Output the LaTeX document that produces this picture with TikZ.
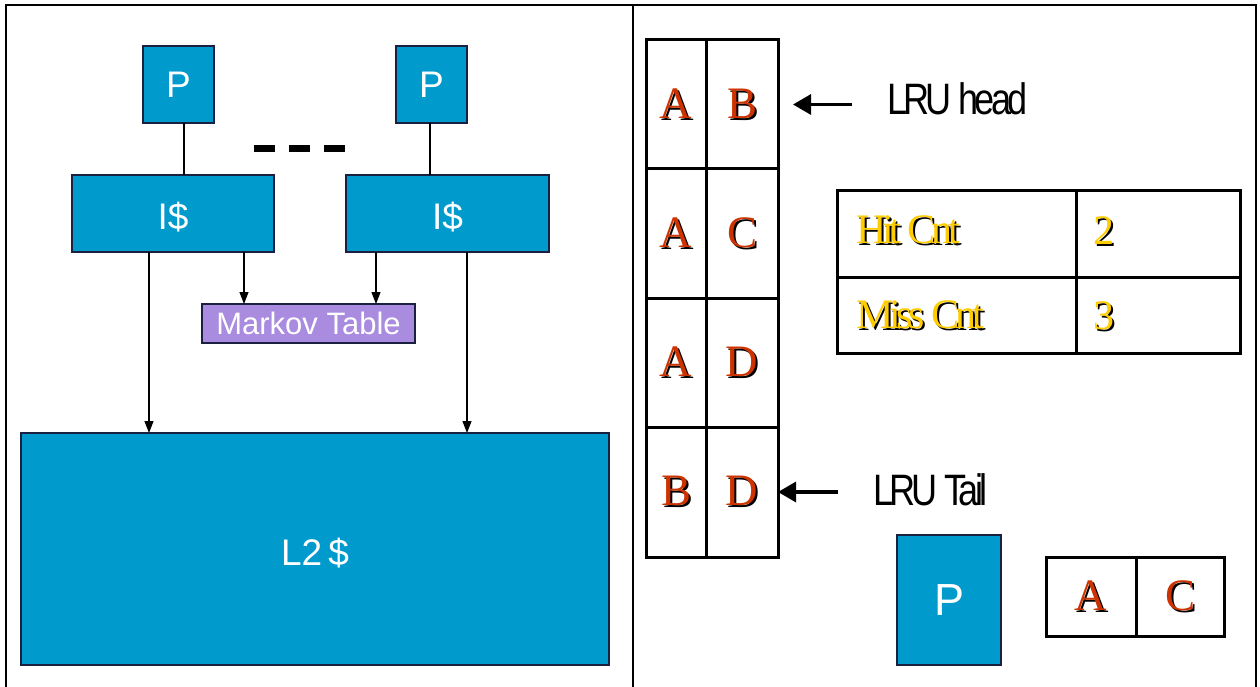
\documentclass[tikz,border=0pt]{standalone}
\usepackage{fontspec}
\setmainfont{Liberation Serif}
\setsansfont{Liberation Sans}
\newfontfamily\tightsans[LetterSpace=-10]{Liberation Sans}
\newfontfamily\tightserif[LetterSpace=-10]{Liberation Serif}
\usetikzlibrary{arrows.meta}

\definecolor{cacheblue}{HTML}{009ACD}
\definecolor{boxedge}{HTML}{1B2040}
\definecolor{markovfill}{HTML}{A98BDF}
\definecolor{tagred}{HTML}{CC3300}
\definecolor{cntyellow}{HTML}{FFCC00}

% font size in pt, leading equal to size
\newcommand{\setfs}[1]{\fontsize{#1}{#1}\selectfont}
% coloured text over a black drop shadow
\newcommand{\dropshadow}[2]{\makebox[0pt][l]{\kern2pt\raisebox{-2pt}{\textcolor{black}{#2}}}\textcolor{#1}{#2}}
% narrow, tightly set label text
\newcommand{\squeezed}[1]{\scalebox{0.82}[1]{#1}}

\begin{document}
\begin{tikzpicture}[x=1pt,y=-1pt,
  blk/.style={draw=boxedge, fill=cacheblue, line width=1.5pt, inner sep=0pt, outer sep=0pt,
              text=white, font=\sffamily\setfs{37}},
  dollarblk/.style={blk, text height=32pt, text depth=0pt},
  markov/.style={draw=boxedge, fill=markovfill, line width=1.5pt, inner sep=0pt, outer sep=0pt,
              text=white, font=\sffamily\setfs{31}},
  cell/.style={draw=black, line width=3pt, inner sep=0pt, outer sep=0pt, font=\rmfamily\setfs{45}},
  frame/.style={draw=black, line width=2.5pt},
  link/.style={draw=black, line width=1.2pt},
  feed/.style={link, -{Triangle[length=12pt,width=9pt]}},
  pointer/.style={draw=black, line width=3.2pt, -{Triangle[length=18pt,width=20pt]}},
  lbl/.style={inner sep=0pt, outer sep=0pt, font=\tightsans\setfs{44}},
  cnt/.style={inner sep=0pt, outer sep=0pt, font=\tightserif\setfs{42}}
]
\useasboundingbox (0,0) rectangle (1260,687);
\fill[white] (0,0) rectangle (1260,687);

% page frame and divider
\draw[frame] (6,687) -- (6,5) -- (1256,5) -- (1256,687);
\draw[frame] (633,5) -- (633,687);

% ---- left: processors, I-caches, Markov table, L2 ----
\node[blk, minimum width=71, minimum height=77] (p1) at (178.5,84.5) {P};
\node[blk, minimum width=71, minimum height=77] (p2) at (431.5,84.5) {P};
\node[dollarblk, minimum width=202, minimum height=77] (ic1) at (173,213.5) {I\$};
\node[dollarblk, minimum width=203, minimum height=77] (ic2) at (447.5,213.5) {I\$};
\node[markov, minimum width=213, minimum height=39] (mk) at (308.5,323.5) {Markov Table};
\node[dollarblk, minimum width=588, minimum height=232] (l2) at (315,549) {L2\,\$};

\coordinate (p1tap) at ([xshift=5.5pt]p1.south);
\coordinate (p2tap) at ([xshift=-1.5pt]p2.south);
\draw[link] (p1tap) -- (p1tap |- ic1.north);
\draw[link] (p2tap) -- (p2tap |- ic2.north);

\draw[line width=7pt, dash pattern=on 21pt off 14pt] (254,149) -- (346,149);

\coordinate (a1) at ([xshift=77pt]ic1.south west);
\coordinate (a2) at ([xshift=172pt]ic1.south west);
\coordinate (b1) at ([xshift=30pt]ic2.south west);
\coordinate (b2) at ([xshift=121pt]ic2.south west);
\draw[feed] (a1) -- (a1 |- l2.north);
\draw[feed] (a2) -- (a2 |- mk.north);
\draw[feed] (b1) -- (b1 |- mk.north);
\draw[feed] (b2) -- (b2 |- l2.north);

% ---- right: LRU stack of address pairs ----
\node[cell, minimum width=60, minimum height=129] (r1a) at (676,104.5) {\dropshadow{tagred}{A}};
\node[cell, minimum width=72, minimum height=129] (r1b) at (742,104.5) {\dropshadow{tagred}{B}};
\node[cell, minimum width=60, minimum height=129] (r2a) at (676,233.5) {\dropshadow{tagred}{A}};
\node[cell, minimum width=72, minimum height=129] (r2b) at (742,233.5) {\dropshadow{tagred}{C}};
\node[cell, minimum width=60, minimum height=129] (r3a) at (676,362.5) {\dropshadow{tagred}{A}};
\node[cell, minimum width=72, minimum height=129] (r3b) at (742,362.5) {\dropshadow{tagred}{D}};
\node[cell, minimum width=60, minimum height=130] (r4a) at (676,492) {\dropshadow{tagred}{B}};
\node[cell, minimum width=72, minimum height=130] (r4b) at (742,492) {\dropshadow{tagred}{D}};

\node[lbl, anchor=base west] (lruhead) at (887,115) {\squeezed{LRU head}};
\node[lbl, anchor=base west] (lrutail) at (873,505) {\squeezed{LRU Tail}};
\coordinate (ht) at (lruhead.west |- r1b.east);
\coordinate (tt) at (lrutail.west |- r4b.east);
\draw[pointer] ([xshift=-35pt]ht) -- ([xshift=15pt]r1b.east);
\draw[pointer] ([xshift=-35pt]tt) -- (r4b.east);

% ---- counters ----
\node[cell, minimum width=239, minimum height=86] (hc) at (956.5,234) {};
\node[cell, minimum width=164, minimum height=86] (hv) at (1158,234) {};
\node[cell, minimum width=239, minimum height=76] (mc) at (956.5,315) {};
\node[cell, minimum width=164, minimum height=76] (mv) at (1158,315) {};
\node[cnt, anchor=base west] (hctext) at ([xshift=19pt,yshift=-9pt]hc.west) {\dropshadow{cntyellow}{Hit Cnt}};
\node[cnt, anchor=base west] (mctext) at ([xshift=19pt,yshift=-13pt]mc.west) {\dropshadow{cntyellow}{Miss Cnt}};
\node[cnt, anchor=base west] (hvtext) at ([xshift=17pt,yshift=-10pt]hv.west) {\dropshadow{cntyellow}{2}};
\node[cnt, anchor=base west] (mvtext) at ([xshift=17pt,yshift=-14pt]mv.west) {\dropshadow{cntyellow}{3}};

% ---- processor with its current pair ----
\node[blk, minimum width=104, minimum height=130, font=\sffamily\setfs{45}] (p3) at (949,600) {P};
\node[cell, minimum width=90, minimum height=79] (ta) at (1091,596.5) {\dropshadow{tagred}{A}};
\node[cell, minimum width=88, minimum height=79] (tc) at (1180,596.5) {\dropshadow{tagred}{C}};
\end{tikzpicture}
\end{document}
